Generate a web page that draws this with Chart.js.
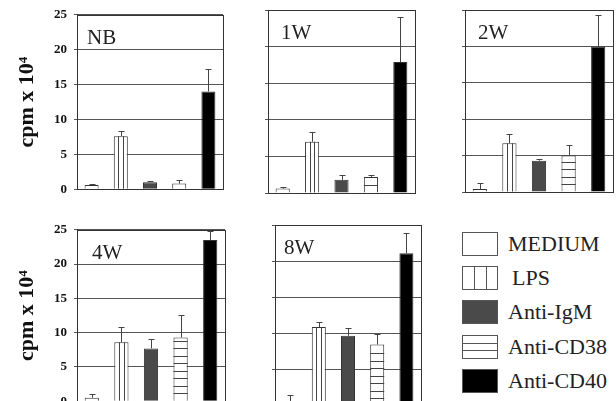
<!DOCTYPE html>
<html>
<head>
<meta charset="utf-8">
<script src="https://cdn.jsdelivr.net/npm/chart.js@4/dist/chart.umd.min.js"></script>
<style>
  html, body { margin: 0; padding: 0; background: #fff; width: 616px; height: 401px; overflow: hidden; position: relative; }
  canvas { position: absolute; }
  .row { position: absolute; left: 462px; height: 24px; display: flex; align-items: center; white-space: nowrap; }
  .box { width: 36px; height: 24px; border: 1px solid #555; box-sizing: border-box; margin-right: 10px; }
  .txt { font-family: "Liberation Serif", serif; font-size: 22px; color: #222; }
</style>
</head>
<body>
<script>
const categories = ['MEDIUM', 'LPS', 'Anti-IgM', 'Anti-CD38', 'Anti-CD40'];
const panelNames = ['NB', '1W', '2W', '4W', '8W'];
const meanNB = [0.6, 7.6, 1.0, 0.8, 14.0];
const errNB  = [0.2, 0.8, 0.2, 0.5, 3.2];
const mean1W = [0.6, 7.0, 1.8, 2.2, 17.9];
const err1W  = [0.2, 1.4, 0.6, 0.3, 6.1];
const mean2W = [0.4, 6.7, 4.3, 5.0, 20.0];
const err2W  = [0.8, 1.2, 0.3, 1.5, 4.3];
const mean4W = [0.5, 8.6, 7.7, 9.3, 23.5];
const err4W  = [0.5, 2.2, 1.3, 3.3, 1.3];
const mean8W = [0.5, 10.9, 9.7, 8.5, 21.1];
const err8W  = [1.0, 0.7, 1.1, 1.4, 2.8];
const yTicks = [0, 5, 10, 15, 20, 25];

const means = [meanNB, mean1W, mean2W, mean4W, mean8W];
const errs = [errNB, err1W, err2W, err4W, err8W];

// plot areas on the page: left, top, right, bottom
const areas = [
  [77, 10, 223, 194],
  [268, 10, 415, 193],
  [465, 10, 613, 192],
  [77, 225, 225, 406],
  [275, 225, 421, 406]
];
const labelDx = [10, 13, 13, 15, 9];
const barFill = ['#ffffff', '#ffffff', '#4a4a4a', '#ffffff', '#000000'];
const serif = '"Liberation Serif", "DejaVu Serif", serif';

// stripes, error bars, frame and panel name
const overlay = {
  id: 'overlay',
  afterDatasetsDraw(chart, args, opts) {
    const ctx = chart.ctx;
    const ys = chart.scales.y;
    const ds = chart.data.datasets[0];
    const meta = chart.getDatasetMeta(0);
    ctx.save();
    ctx.lineWidth = 1;
    ctx.strokeStyle = '#444';
    meta.data.forEach((bar, i) => {
      const p = bar.getProps(['x', 'y', 'base', 'width'], true);
      const l = p.x - p.width / 2, r = p.x + p.width / 2;
      ctx.beginPath();
      if (i === 1) {
        for (let k = 1; k < 3; k++) {
          const xx = Math.round(l + p.width * k / 3) + 0.5;
          ctx.moveTo(xx, p.y); ctx.lineTo(xx, p.base);
        }
      }
      if (i === 3) {
        for (let yy = p.base - 7.5; yy > p.y + 1.5; yy -= 7.5) {
          const y0 = Math.round(yy) + 0.5;
          ctx.moveTo(l, y0); ctx.lineTo(r, y0);
        }
      }
      ctx.stroke();
      const ye = Math.round(ys.getPixelForValue(ds.data[i] + ds.errors[i])) + 0.5;
      const xc = Math.round(p.x) + 0.5;
      ctx.beginPath();
      ctx.moveTo(xc, p.y); ctx.lineTo(xc, ye);
      ctx.moveTo(xc - 3, ye); ctx.lineTo(xc + 3, ye);
      ctx.stroke();
    });
    const a = chart.chartArea;
    ctx.strokeStyle = '#333';
    ctx.strokeRect(Math.round(a.left) + 0.5, Math.round(a.top) + 0.5,
                   Math.round(a.right - a.left), Math.round(a.bottom - a.top));
    ctx.fillStyle = '#222';
    ctx.font = '21px ' + serif;
    ctx.textBaseline = 'alphabetic';
    ctx.fillText(opts.label, a.left + opts.dx, a.top + 29);
    ctx.restore();
  }
};

const pad = 10;
panelNames.forEach((name, n) => {
  const [L, T, R, B] = areas[n];
  const isLeft = L < 100;
  const axisW = isLeft ? L : 4;
  const cv = document.createElement('canvas');
  const w = (R - L) + axisW + pad;
  const h = (B - T) + 2 * pad;
  cv.width = w; cv.height = h;
  cv.style.left = (L - axisW) + 'px';
  cv.style.top = (T - pad) + 'px';
  cv.style.width = w + 'px';
  cv.style.height = h + 'px';
  document.body.appendChild(cv);

  new Chart(cv, {
    type: 'bar',
    data: {
      labels: categories,
      datasets: [{
        data: means[n],
        errors: errs[n],
        backgroundColor: barFill,
        borderColor: '#333',
        borderWidth: 1,
        barPercentage: 0.48,
        categoryPercentage: 1
      }]
    },
    options: {
      responsive: false,
      animation: false,
      devicePixelRatio: 1,
      layout: { padding: { left: 0, top: pad, right: pad, bottom: pad } },
      plugins: {
        legend: { display: false },
        tooltip: { enabled: false },
        overlay: { label: name, dx: labelDx[n] }
      },
      scales: {
        x: { display: false },
        y: {
          min: 0,
          max: 25,
          afterBuildTicks: s => { s.ticks = yTicks.map(v => ({ value: v })); },
          afterFit: s => { s.width = axisW; },
          border: { display: true, color: '#333', width: 1 },
          grid: { color: '#555', lineWidth: 1, drawTicks: true, tickLength: 3, tickColor: '#555' },
          ticks: {
            display: isLeft,
            padding: 7,
            color: '#111',
            font: { family: serif, size: 13, weight: 'bold' }
          },
          title: {
            display: isLeft,
            text: 'cpm x 10⁴',
            color: '#111',
            padding: 0,
            font: { family: serif, size: 22, weight: 'bold', lineHeight: 54 / 22 }
          }
        }
      }
    },
    plugins: [overlay]
  });
});

// legend
const swatches = [
  'background:#fff',
  'background:linear-gradient(to right, transparent 11px, #555 11px, #555 12px, transparent 12px, transparent 23px, #555 23px, #555 24px, transparent 24px)',
  'background:#4a4a4a',
  'background:linear-gradient(to bottom, transparent 7px, #555 7px, #555 8px, transparent 8px, transparent 14px, #555 14px, #555 15px, transparent 15px)',
  'background:#000'
];
categories.forEach((c, i) => {
  const row = document.createElement('div');
  row.className = 'row';
  row.style.top = (232 + i * 34.2) + 'px';
  row.innerHTML = '<div class="box" style="' + swatches[i] + '"></div>' +
    '<span class="txt" style="margin-left:' + (i === 1 ? 4 : 0) + 'px">' + c + '</span>';
  document.body.appendChild(row);
});
</script>
</body>
</html>
